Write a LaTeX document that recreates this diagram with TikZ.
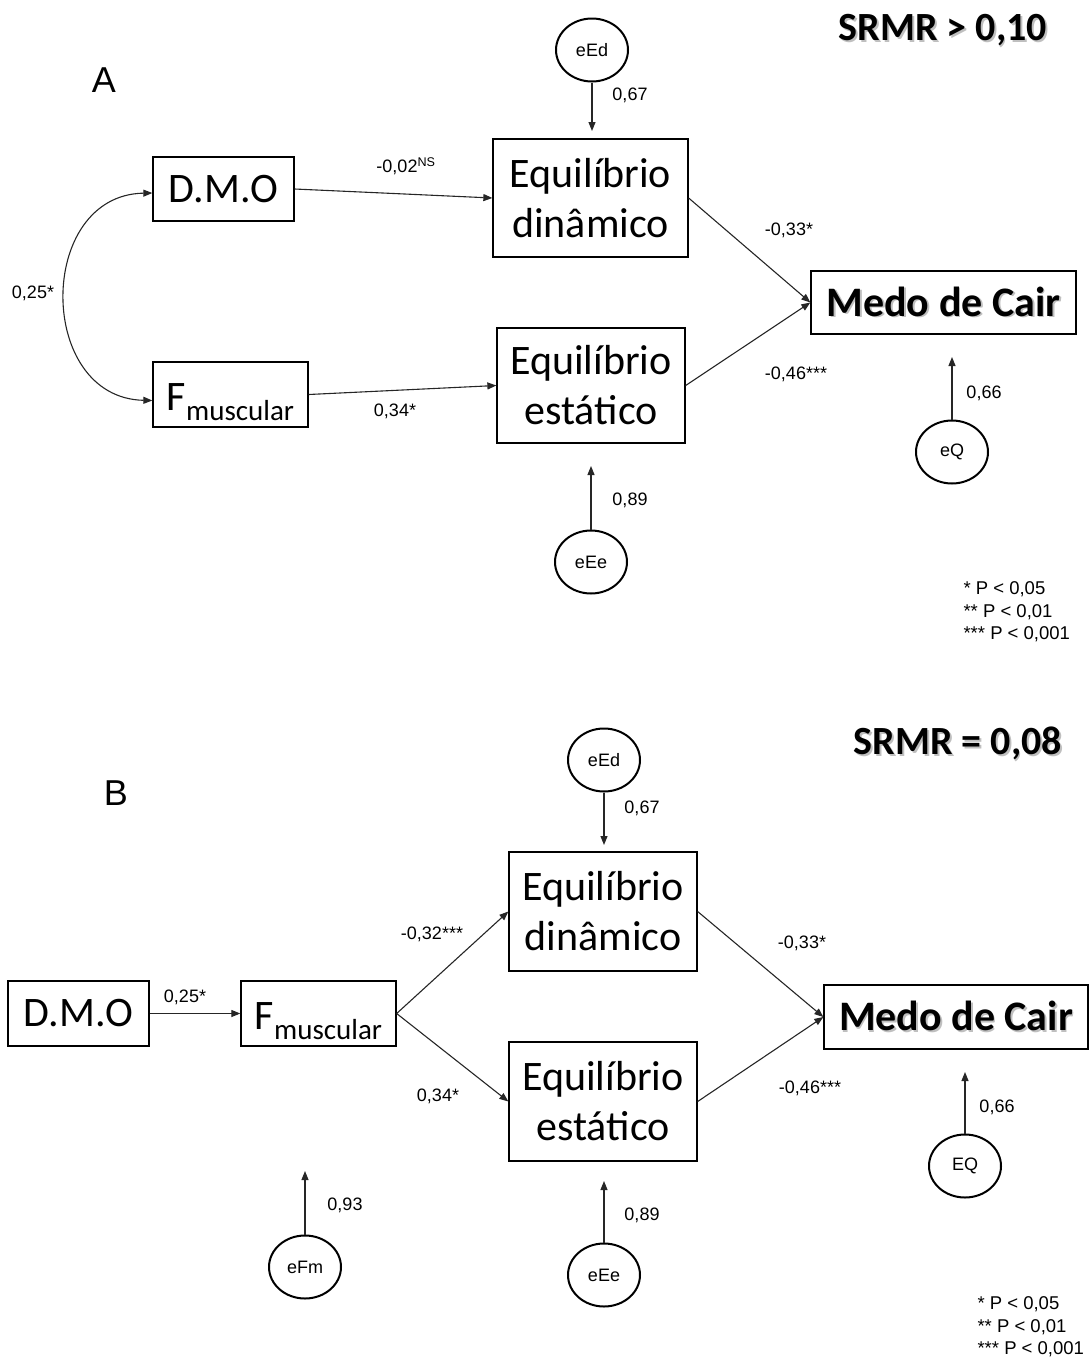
\documentclass[tikz,border=0pt]{standalone}
\usepackage{fontspec}
\setmainfont{Carlito}
\newfontfamily\arialfont{Liberation Sans}
\usepackage{xcolor}
\usetikzlibrary{arrows.meta,shapes,calc}

\newcommand{\shadowed}[1]{\makebox[0pt][l]{\hspace{1.8pt}\raisebox{-1.8pt}{\textcolor{black!25}{#1}}}#1}
\newcommand{\fmuscular}{\rule{0pt}{42pt}F\raisebox{-10pt}{\fontsize{29}{30}\selectfont muscular}}

\begin{document}
\begin{tikzpicture}[x=1pt, y=-1pt,
    var/.style={draw, line width=1.3pt, inner sep=0pt, align=center, font=\fontsize{42}{50}\selectfont},
    err/.style={draw, ellipse, line width=2pt, minimum width=72pt, minimum height=63pt, inner sep=0pt, font=\arialfont\fontsize{18}{20}\selectfont},
    coef/.style={font=\arialfont\fontsize{18}{20}\selectfont},
    link/.style={-{Triangle[length=9pt,width=7pt]}, line width=1.1pt, black!85}]
    \useasboundingbox (0,0) rectangle (1089,1360);

    % ---------------- Model A ----------------
    \node[font=\arialfont\fontsize{36}{40}\selectfont] (titA) at (104,80) {A};
    \node[font=\bfseries\fontsize{40}{44}\selectfont] (fitA) at (943,31) {\shadowed{SRMR > 0,10}};

    % observed variables
    \node[var, minimum width=141pt, minimum height=64pt] (dmoA) at (223.5,189) {D.M.O};
    \node[var, minimum width=155pt, minimum height=65pt] (fmA) at (230.5,394.5) {\fmuscular};
    \node[var, minimum width=195pt, minimum height=118pt] (edA) at (590.5,198) {Equilíbrio\\dinâmico};
    \node[var, minimum width=188pt, minimum height=115pt] (eeA) at (591,385.5) {Equilíbrio\\estático};
    \node[var, minimum width=265pt, minimum height=63pt, font=\bfseries\fontsize{42}{50}\selectfont] (medoA) at (943.5,302.5) {\shadowed{Medo de Cair}};

    % residuals
    \node[err] (eEdA) at (592,50) {eEd};
    \node[err] (eQA) at (952,452) {eQ};
    \node[err] (eEeA) at (591,562) {eEe};
    \coordinate (tEdA) at (592,131);
    \coordinate (tQA) at (952,357);
    \coordinate (tEeA) at (591,466);

    % paths
    \draw[link] (dmoA.east) -- (edA.west);
    \draw[link] (fmA.east) -- (eeA.west);
    \draw[link] (edA.east) -- (medoA.west);
    \draw[link] (eeA.east) -- (medoA.west);
    \draw[link, {Triangle[length=9pt,width=7pt]}-{Triangle[length=9pt,width=7pt]}]
        ([yshift=-4pt]dmoA.west) .. controls (36,195) and (36,398) .. ([yshift=-6pt]fmA.west);
    \draw[link] (eEdA.south) -- (tEdA);
    \draw[link] (eQA.north) -- (tQA);
    \draw[link] (eEeA.north) -- (tEeA);

    % coefficients
    \node[coef] (cEdA) at (630,95) {0,67};
    \node[coef] (c1A) at (406,166) {-0,02\textsuperscript{NS}};
    \node[coef] (c2A) at (33,293) {0,25*};
    \node[coef] (c3A) at (395,411) {0,34*};
    \node[coef] (c4A) at (789,230) {-0,33*};
    \node[coef] (c5A) at (796,374) {-0,46***};
    \node[coef] (cQA) at (984,393) {0,66};
    \node[coef] (cEeA) at (630,500) {0,89};

    % legend
    \node[coef, align=left, anchor=west, font=\arialfont\fontsize{18.5}{22.5}\selectfont] (legA) at (960,612) {* P < 0,05\\** P < 0,01\\*** P < 0,001};

    % ---------------- Model B ----------------
    \node[font=\arialfont\fontsize{36}{40}\selectfont] (titB) at (116,793) {B};
    \node[font=\bfseries\fontsize{40}{44}\selectfont] (fitB) at (958,744) {\shadowed{SRMR = 0,08}};

    % observed variables
    \node[var, minimum width=141pt, minimum height=65pt] (dmoB) at (78.5,1013.5) {D.M.O};
    \node[var, minimum width=155pt, minimum height=65pt] (fmB) at (318.5,1013.5) {\fmuscular};
    \node[var, minimum width=188pt, minimum height=119pt] (edB) at (603,911.5) {Equilíbrio\\dinâmico};
    \node[var, minimum width=188pt, minimum height=119pt] (eeB) at (603,1101.5) {Equilíbrio\\estático};
    \node[var, minimum width=264pt, minimum height=64pt, font=\bfseries\fontsize{42}{50}\selectfont] (medoB) at (956,1017) {\shadowed{Medo de Cair}};

    % residuals
    \node[err] (eEdB) at (604,760) {eEd};
    \node[err] (eQB) at (965,1166) {EQ};
    \node[err] (eEeB) at (604,1275) {eEe};
    \node[err] (eFmB) at (305,1267) {eFm};
    \coordinate (tEdB) at (604,845);
    \coordinate (tQB) at (965,1072);
    \coordinate (tEeB) at (604,1181);
    \coordinate (tFmB) at (305,1171);

    % paths
    \draw[link] (dmoB.east) -- (fmB.west);
    \draw[link] (fmB.east) -- (edB.west);
    \draw[link] (fmB.east) -- (eeB.west);
    \draw[link] (edB.east) -- (medoB.west);
    \draw[link] (eeB.east) -- (medoB.west);
    \draw[link] (eEdB.south) -- (tEdB);
    \draw[link] (eQB.north) -- (tQB);
    \draw[link] (eEeB.north) -- (tEeB);
    \draw[link] (eFmB.north) -- (tFmB);

    % coefficients
    \node[coef] (cEdB) at (642,808) {0,67};
    \node[coef] (c1B) at (185,997) {0,25*};
    \node[coef] (c2B) at (432,934) {-0,32***};
    \node[coef] (c3B) at (438,1096) {0,34*};
    \node[coef] (c4B) at (802,943) {-0,33*};
    \node[coef] (c5B) at (810,1088) {-0,46***};
    \node[coef] (cQB) at (997,1107) {0,66};
    \node[coef] (cEeB) at (642,1215) {0,89};
    \node[coef] (cFmB) at (345,1205) {0,93};

    % legend
    \node[coef, align=left, anchor=west, font=\arialfont\fontsize{18.5}{22.5}\selectfont] (legB) at (974,1327) {* P < 0,05\\** P < 0,01\\*** P < 0,001};
\end{tikzpicture}
\end{document}
